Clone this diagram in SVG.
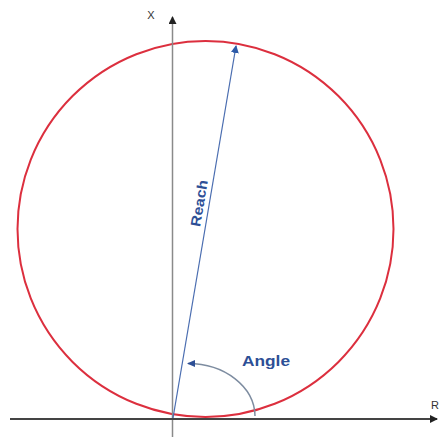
<svg xmlns="http://www.w3.org/2000/svg" width="440" height="439" viewBox="0 0 440 439">
<style>
.lbl{font-family:"Liberation Sans",Arial,sans-serif;font-weight:bold;fill:#2d4f96}
.ax{font-family:"Liberation Sans",Arial,sans-serif;fill:#333}
</style>
<defs>
<marker id="ahGray" markerWidth="8" markerHeight="8" refX="7" refY="4" orient="auto" markerUnits="userSpaceOnUse"><path d="M0,0 L8,4 L0,8 Z" fill="#222"/></marker>
<marker id="ahBlue" markerWidth="8" markerHeight="8" refX="7" refY="4" orient="auto" markerUnits="userSpaceOnUse"><path d="M0,0 L8,4 L0,8 Z" fill="#2d5aa8"/></marker>
<marker id="ahArc" markerWidth="8" markerHeight="7" refX="7" refY="3.5" orient="auto" markerUnits="userSpaceOnUse"><path d="M0,0 L8,3.5 L0,7 Z" fill="#2d4f96"/></marker>
</defs>
<rect width="440" height="439" fill="#fff"/>
<g id="circle">
<circle cx="205.5" cy="229" r="188" fill="none" stroke="#dc2f3e" stroke-width="2"/>
</g>
<g id="connectors">
<line x1="172.5" y1="437" x2="172.5" y2="17" stroke="#8a8a8a" stroke-width="1.5" marker-end="url(#ahGray)"/>
<line x1="10" y1="419" x2="437" y2="419" stroke="#444" stroke-width="2" marker-end="url(#ahGray)"/>
<line x1="173" y1="418" x2="236" y2="46" stroke="#4a6db0" stroke-width="1.2" marker-end="url(#ahBlue)"/>
<path d="M255,416 A67,53 0 0 0 188,363.5" fill="none" stroke="#7d8ca0" stroke-width="1.5" marker-end="url(#ahArc)"/>
</g>
<g id="labels">
<text class="ax" x="151" y="19" font-size="11" text-anchor="middle">X</text>
<text class="ax" x="431" y="409" font-size="11">R</text>
<text class="lbl" x="242" y="366" font-size="14" textLength="48" lengthAdjust="spacingAndGlyphs">Angle</text>
<text class="lbl" font-size="14" text-anchor="middle" transform="translate(204,204) rotate(-80.4)" textLength="47" lengthAdjust="spacingAndGlyphs">Reach</text>
</g>
</svg>
